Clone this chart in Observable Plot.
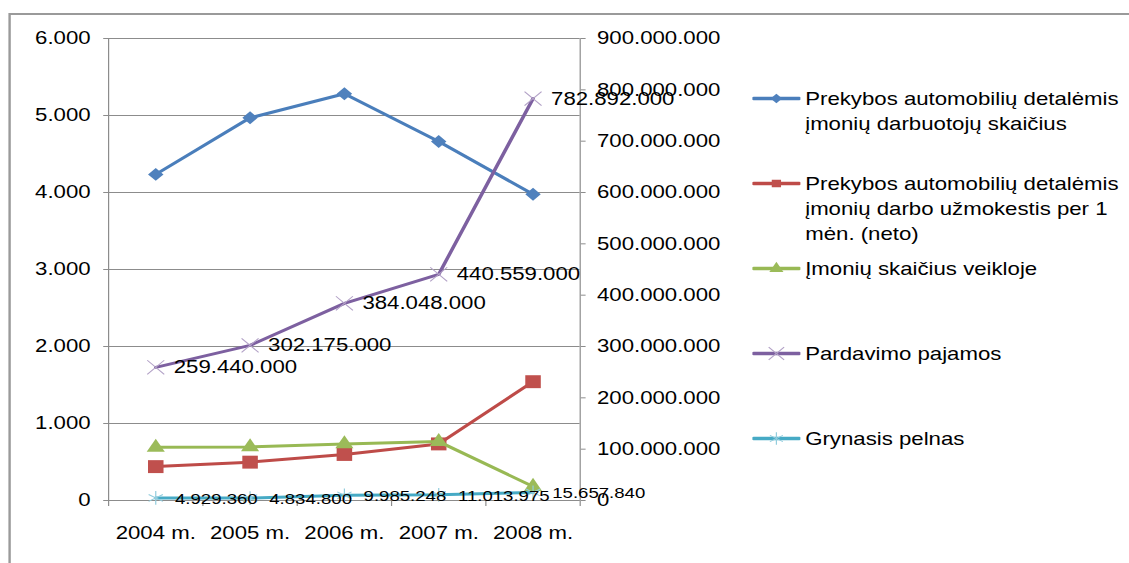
<!DOCTYPE html>
<html>
<head>
<meta charset="utf-8">
<script src="https://cdn.jsdelivr.net/npm/d3@7"></script>
<script src="https://cdn.jsdelivr.net/npm/@observablehq/plot@0.6"></script>
<style>
  html, body { margin: 0; padding: 0; background: #fff; overflow: hidden; }
  /* the whole figure is drawn on a narrower stage and widened horizontally */
  #stage { position: relative; width: 941px; height: 563px; transform: scaleX(1.2); transform-origin: 0 0;
           font-family: "Liberation Sans", Arial, sans-serif; }
  #frame { position: absolute; left: 6.5px; top: 13px; width: 1000px; height: 600px;
           border: 2px solid #9a9a9a; box-sizing: border-box; }
  #chart { position: absolute; left: 0; top: 0; }
  #legend { position: absolute; left: 627px; top: 0; }
  .entry { position: absolute; left: 0; display: flex; align-items: flex-start; white-space: nowrap;
           font-size: 18.5px; line-height: 25px; color: #000; }
  .entry svg { flex: none; margin-right: 4px; }
</style>
</head>
<body>
<div id="stage">
  <div id="frame"></div>
  <div id="chart"></div>
  <div id="legend"></div>
</div>
<script>
// Categories
const years = ["2004 m.", "2005 m.", "2006 m.", "2007 m.", "2008 m."];

// Left-axis series
const employees = [4235, 4970, 5282, 4662, 3978];   // darbuotojų skaičius
const wages = [440, 498, 598, 735, 1543];            // darbo užmokestis per 1 mėn.
const companies = [690, 695, 735, 765, 181];         // įmonių skaičius veikloje

// Right-axis series
const revenue = [259440000, 302175000, 384048000, 440559000, 782892000];
const netProfit = [4929360, 4834800, 9985248, 11013975, 15657840];

// Axis ticks
const leftTicks = [0, 1000, 2000, 3000, 4000, 5000, 6000];
const rightTicks = [0, 100000000, 200000000, 300000000, 400000000, 500000000,
                    600000000, 700000000, 800000000, 900000000];

// Legend text, line by line
const seriesNames = [
  ["Prekybos automobilių detalėmis", "įmonių darbuotojų skaičius"],
  ["Prekybos automobilių detalėmis", "įmonių darbo užmokestis per 1", "mėn. (neto)"],
  ["Įmonių skaičius veikloje"],
  ["Pardavimo pajamos"],
  ["Grynasis pelnas"]
];

const LEFT_MAX = 6000, RIGHT_MAX = 900000000;
const toLeft = v => v * LEFT_MAX / RIGHT_MAX;      // secondary axis -> primary units
const fromLeft = v => v * RIGHT_MAX / LEFT_MAX;

const fmt = d3.formatLocale({decimal: ",", thousands: ".", grouping: [3], currency: ["", ""]}).format(",d");

const series = [
  {values: employees, right: false, line: "#4a7ebb", marker: "#4f81bd", symbol: "diamond2", d3sym: d3.symbolDiamond2, r: 5.8, filled: true},
  {values: wages,     right: false, line: "#be4b48", marker: "#c0504d", symbol: "square",   d3sym: d3.symbolSquare,   r: 7.3, filled: true},
  {values: companies, right: false, line: "#98b954", marker: "#9bbb59", symbol: "triangle", d3sym: d3.symbolTriangle, r: 5.6, filled: true},
  {values: revenue,   right: true,  line: "#7d60a0", marker: "#b3a2c7", symbol: "times",    d3sym: d3.symbolTimes,    r: 6.5, filled: false},
  {values: netProfit, right: true,  line: "#46aac5", marker: "#93cddd", symbol: "asterisk", d3sym: d3.symbolAsterisk, r: 6.5, filled: false}
];

const rowsOf = s => s.values.map((v, i) => ({i, v, y: s.right ? toLeft(v) : v}));

const axisGrey = "#8c8c8c";
const font = 18.5;

const marks = [
  Plot.gridY(leftTicks, {stroke: axisGrey, strokeOpacity: 1}),
  Plot.ruleX([-0.5, 4.5], {stroke: axisGrey}),
  Plot.ruleY([0], {stroke: axisGrey}),
  // primary axis
  Plot.axisY(leftTicks, {anchor: "left", label: null, tickSize: 4, tickPadding: 11, stroke: axisGrey, fill: "#000",
                         fontSize: font, tickFormat: fmt}),
  // secondary axis, expressed in primary units
  Plot.axisY(rightTicks.map(toLeft), {anchor: "right", label: null, tickSize: 4, tickPadding: 10, stroke: axisGrey, fill: "#000",
                                      fontSize: font, tickFormat: d => fmt(Math.round(fromLeft(d)))}),
  // category boundaries
  Plot.axisX([-0.5, 0.5, 1.5, 2.5, 3.5, 4.5], {anchor: "bottom", label: null, tickSize: 6, stroke: axisGrey, tickFormat: () => ""}),
  // category labels
  Plot.axisX(years.map((d, i) => i), {anchor: "bottom", label: null, tickSize: 0, tickPadding: 25, fill: "#000",
                                      fontSize: font, tickFormat: i => years[i]})
];

for (const s of series) {
  const rows = rowsOf(s);
  marks.push(Plot.line(rows, {x: "i", y: "y", stroke: s.line, strokeWidth: 3,
                              strokeLinejoin: "round", strokeLinecap: "round"}));
  marks.push(Plot.dot(rows, s.filled
    ? {x: "i", y: "y", symbol: s.symbol, r: s.r, fill: s.marker, stroke: "none"}
    : {x: "i", y: "y", symbol: s.symbol, r: s.r, fill: "none", stroke: s.marker, strokeWidth: 1}));
}

// value labels on the secondary series
marks.push(Plot.text(rowsOf(series[3]), {x: "i", y: "y", text: d => fmt(d.v), textAnchor: "start",
                                         dx: 15, fontSize: font, fill: "#000"}));
marks.push(Plot.text(rowsOf(series[4]), {x: "i", y: "y", text: d => fmt(d.v), textAnchor: "start",
                                         dx: 16, dy: 1, fontSize: 15.5, fill: "#000"}));

const chart = Plot.plot({
  width: 941,
  height: 563,
  marginLeft: 90,
  marginRight: 458,
  marginTop: 38,
  marginBottom: 63,
  x: {type: "linear", domain: [-0.5, 4.5], axis: null, label: null},
  y: {type: "linear", domain: [0, LEFT_MAX], axis: null, label: null},
  style: {fontFamily: "'Liberation Sans', Arial, sans-serif", fontSize: font + "px", background: "transparent", overflow: "visible"},
  marks
});
document.getElementById("chart").appendChild(chart);

// Legend
const legend = document.getElementById("legend");
series.forEach((s, k) => {
  const entry = document.createElement("div");
  entry.className = "entry";
  entry.style.top = (85.5 + k * 85) + "px";
  const sw = d3.create("svg").attr("width", 40).attr("height", 25);
  sw.append("line").attr("x1", 1).attr("x2", 39).attr("y1", 12.5).attr("y2", 12.5)
    .attr("stroke", s.line).attr("stroke-width", 3.5).attr("stroke-linecap", "round");
  sw.append("path").attr("transform", "translate(20,12.5)")
    .attr("d", d3.symbol(s.d3sym, s.filled ? 60 : 110)())
    .attr("fill", s.filled ? s.marker : "none")
    .attr("stroke", s.filled ? "none" : s.marker)
    .attr("stroke-width", 1);
  entry.appendChild(sw.node());
  const label = document.createElement("div");
  label.innerHTML = seriesNames[k].join("<br>");
  entry.appendChild(label);
  legend.appendChild(entry);
});
</script>
</body>
</html>
